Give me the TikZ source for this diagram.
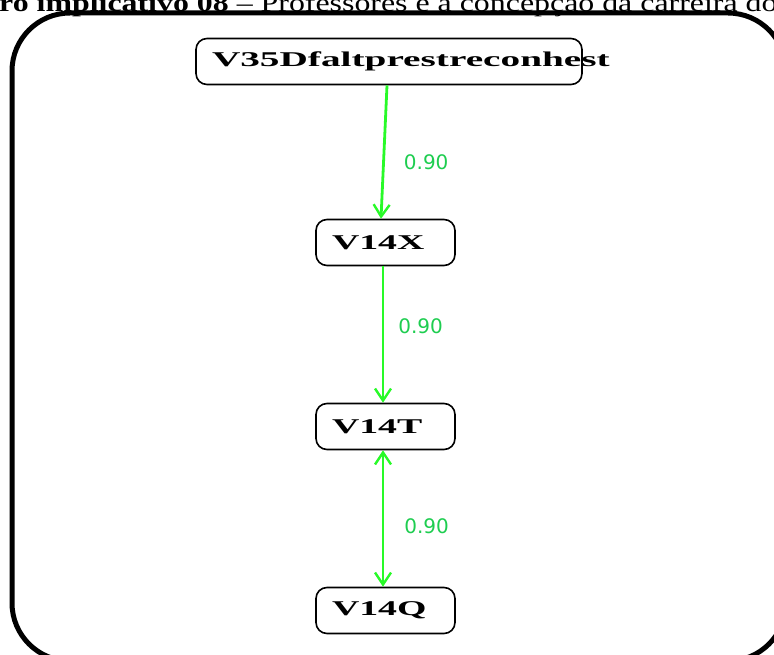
\documentclass[tikz,border=0pt]{standalone}
\usepackage{fontspec}
\setmainfont{Liberation Serif}
\newfontfamily\labelfont{DejaVu Sans}
\usetikzlibrary{arrows.meta}

\definecolor{arcgreen}{RGB}{40,250,40}
\definecolor{valgreen}{RGB}{30,205,80}

\tikzset{
    var/.style={draw=black, line width=1.6pt, rounded corners=11pt, inner xsep=16pt, inner ysep=0pt,
                minimum height=46pt, align=left},
    implic/.style={draw=arcgreen, line width=2.8pt, >={Straight Barb[length=12pt,width=16pt,line width=2.4pt]}},
    valor/.style={text=valgreen, font=\labelfont\fontsize{20}{20}\selectfont, inner sep=0pt}
}
% variable name, bold and widened
\newcommand{\vname}[3][1.8]{\makebox[#2][l]{\rlap{\scalebox{#1}[1]{\fontsize{21}{21}\selectfont\bfseries #3}}}}

\begin{document}
\begin{tikzpicture}[x=1pt, y=-1pt]
                \useasboundingbox (0,0) rectangle (774,655);
                \begin{scope}
                \clip (0,0) rectangle (774,655);
                % caption line, cut at the top
                \node[anchor=base west, inner sep=0pt] (titulo) at (-1,12)
                    {\scalebox{1.275}[1]{\fontsize{25}{25}\selectfont\textbf{ro implicativo 08} -- Professores e a concepção da carreira do}};
                % outer frame, right and bottom sides run off the page
                \draw[line width=5pt] (12,71) arc[start angle=180, end angle=90, radius=58pt] -- (728,13)
                    arc[start angle=90, end angle=0, radius=58pt] -- (786,603)
                    arc[start angle=0, end angle=-90, radius=58pt] -- (70,661)
                    arc[start angle=-90, end angle=-180, radius=58pt] -- cycle;
                \end{scope}

                \node[var, minimum width=386pt] (V35) at (389,61.5) {\vname[1.87]{354pt}{V35Dfaltprestreconhest}};
                \node[var, minimum width=139pt] (V14X) at (385.5,242.5) {\vname{107pt}{V14X}};
                \node[var, minimum width=139pt] (V14T) at (385.5,426.5) {\vname{107pt}{V14T}};
                \node[var, minimum width=139pt] (V14Q) at (385.5,610.5) {\vname{107pt}{V14Q}};

                \path [implic] ([xshift=-2pt]V35.south) edge[->] node[valor, pos=0.58, right=19pt] {0.90} ([xshift=-4.5pt]V14X.north);
                \path [implic] ([xshift=-2.5pt]V14X.south) edge[->] node[valor, pos=0.44, right=14pt] {0.90} ([xshift=-2.5pt]V14T.north);
                \path [implic] ([xshift=-2.5pt]V14T.south) edge[<->] node[valor, pos=0.56, right=20pt] {0.90} ([xshift=-2.5pt]V14Q.north);
            \end{tikzpicture}
\end{document}
